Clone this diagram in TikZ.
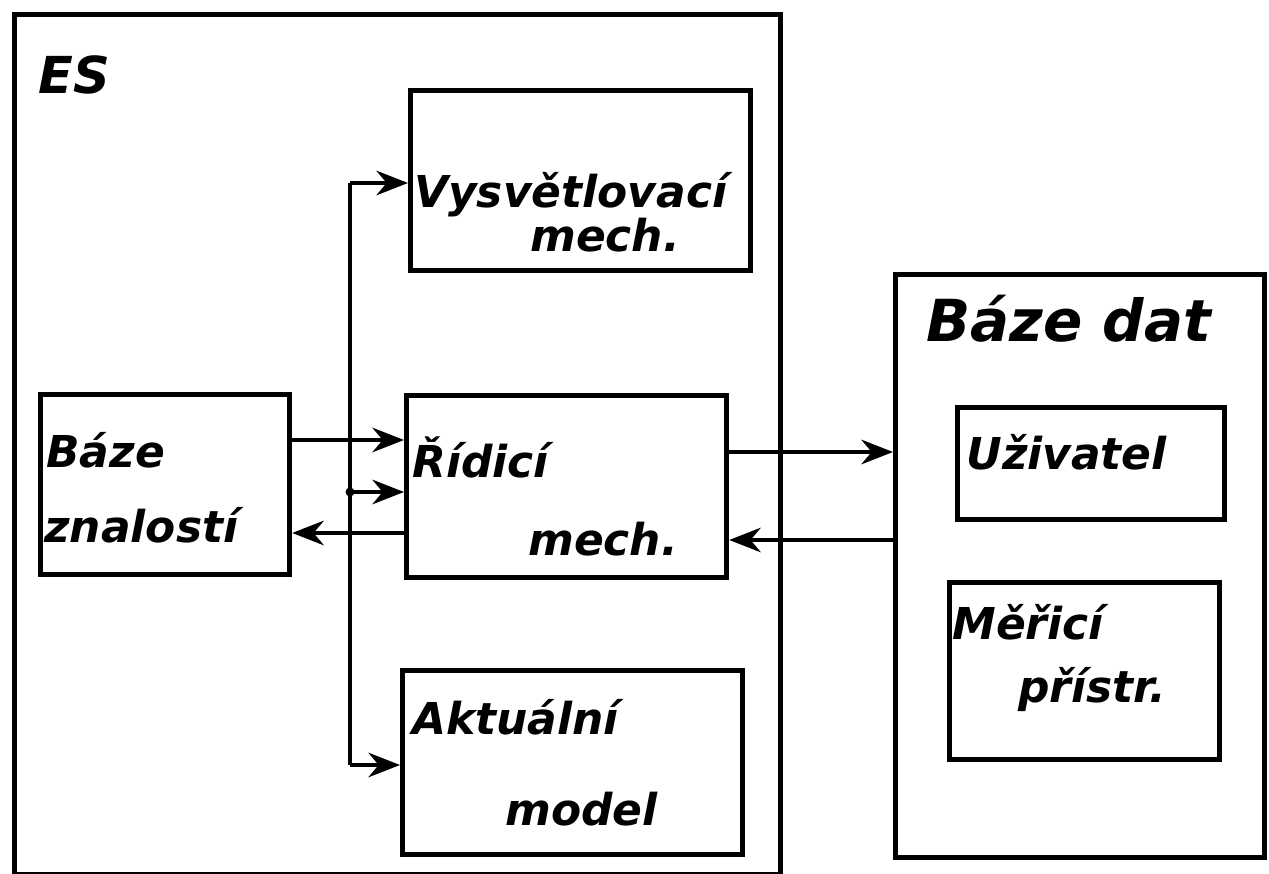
\documentclass[tikz,border=0pt]{standalone}
\usepackage{fontspec}
\setmainfont{DejaVu Sans}
\usetikzlibrary{arrows.meta}
\begin{document}
\begin{tikzpicture}[x=0.02cm,y=-0.02cm,
  box/.style={draw,line width=3pt,inner sep=0pt,anchor=north west},
  lbl/.style={font=\fontsize{25}{30}\selectfont\bfseries\itshape,inner sep=0pt,anchor=base west},
  big/.style={font=\fontsize{33}{38}\selectfont\bfseries\itshape},
  conn/.style={line width=2pt,-{Stealth[length=18pt,width=14pt]}},
  line/.style={line width=2pt}]
\useasboundingbox (0,0) rectangle (1269,874);
% outer boxes
\node[box,minimum width=15.32cm,minimum height=17.2cm] (es) at (12,12) {};
\node[lbl,font=\fontsize{29}{34}\selectfont\bfseries\itshape] (eslbl) at (38,94) {ES};
\node[box,minimum width=7.38cm,minimum height=11.66cm] (bd) at (893,272) {};
\node[lbl,big] (bdlbl) at (926,342) {Báze dat};
% inner boxes
\node[box,minimum width=6.8cm,minimum height=3.6cm] (vys) at (408,88) {};
\node[lbl] (vys1) at (414,208) {Vysvětlovací};
\node[lbl] (vys2) at (530,252) {mech.};
\node[box,minimum width=4.98cm,minimum height=3.6cm] (bz) at (38,392) {};
\node[lbl] (bz1) at (46,468) {Báze};
\node[lbl] (bz2) at (44,543) {znalostí};
\node[box,minimum width=6.4cm,minimum height=3.64cm] (ri) at (404,393) {};
\node[lbl] (ri1) at (412,478) {Řídicí};
\node[lbl] (ri2) at (528,556) {mech.};
\node[box,minimum width=6.8cm,minimum height=3.68cm] (ak) at (400,668) {};
\node[lbl] (ak1) at (412,735) {Aktuální};
\node[lbl] (ak2) at (505,826) {model};
\node[box,minimum width=5.34cm,minimum height=2.24cm] (uz) at (955,405) {};
\node[lbl] (uz1) at (966,470) {Uživatel};
\node[box,minimum width=5.4cm,minimum height=3.54cm] (me) at (947,580) {};
\node[lbl] (me1) at (952,640) {Měřicí};
\node[lbl] (me2) at (1018,703) {přístr.};
% connectors
\coordinate (top) at (350,183);
\coordinate (bot) at (350,765);
\coordinate (mid) at (350,492);
\draw[line] (top) -- (bot);
\draw[conn] (top) -- (vys.west |- top);
\draw[conn] (bot) -- (ak.west |- bot);
\fill (mid) circle (4.5);
\draw[conn] (mid) -- (ri.west |- mid);
\draw[conn] (bz.east |- 0,440) -- (ri.west |- 0,440);
\draw[conn] (ri.west |- 0,533) -- (bz.east |- 0,533);
\draw[conn] (ri.east |- 0,452) -- (bd.west |- 0,452);
\draw[conn] (bd.west |- 0,540) -- (ri.east |- 0,540);
\end{tikzpicture}
\end{document}
